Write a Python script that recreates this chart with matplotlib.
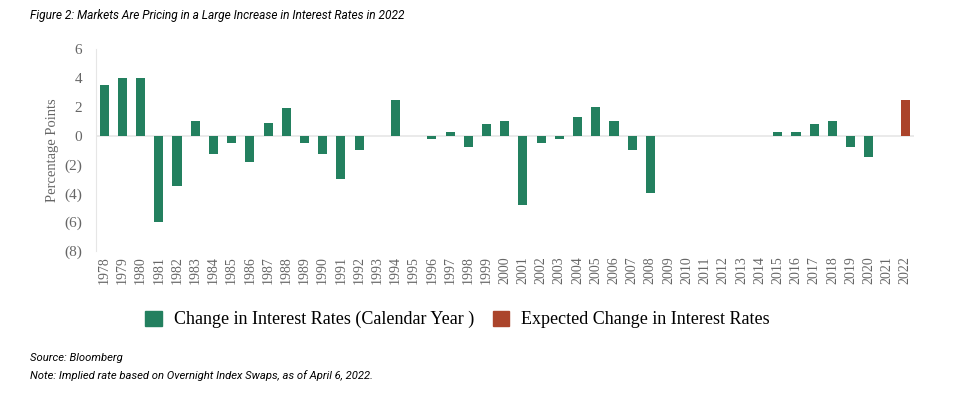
import matplotlib.pyplot as plt
from matplotlib.patches import Patch

# yearly change in policy rate, percentage points (2022 = expected, from OIS)
years = list(range(1978, 2023))
changes = [3.5, 4.0, 4.0, -6.0, -3.5, 1.0, -1.3, -0.5, -1.8, 0.9,
           1.9, -0.5, -1.3, -3.0, -1.0, 0.0, 2.5, 0.0, -0.25, 0.25,
           -0.8, 0.8, 1.0, -4.8, -0.5, -0.25, 1.3, 2.0, 1.0, -1.0,
           -4.0, 0.0, 0.0, 0.0, 0.0, 0.0, 0.0, 0.25, 0.25, 0.8,
           1.0, -0.8, -1.5, 0.0, 2.5]
expected_year = 2022

yticks = [6, 4, 2, 0, -2, -4, -6, -8]
ytick_labels = ["6", "4", "2", "0", "(2)", "(4)", "(6)", "(8)"]

green = "#23805f"
red = "#ab442b"
grey = "#666666"
serif = "Liberation Serif"

fig = plt.figure(figsize=(9.8, 3.97), dpi=100)
ax = fig.add_axes([0.098, 0.368, 0.835, 0.508])

x = list(range(len(years)))
colors = [red if y == expected_year else green for y in years]
ax.bar(x, changes, width=0.5, color=colors, zorder=3)
ax.axhline(0, color="#e6e6e6", lw=1.2, zorder=2)

ax.set_xlim(-0.45, len(years) - 0.5)
ax.set_ylim(-8, 6)
ax.set_yticks(yticks)
ax.set_yticklabels(ytick_labels, family=serif, fontsize=11, color=grey)
ax.set_xticks(x)
ax.set_xticklabels([str(y) for y in years], rotation=90, family=serif,
                   fontsize=10, color=grey)
ax.tick_params(axis="x", length=0, pad=4)
ax.tick_params(axis="y", length=0, pad=10)
ax.set_ylabel("Percentage Points", family=serif, fontsize=10.5, color=grey,
              labelpad=4)

for side in ["top", "right", "bottom"]:
    ax.spines[side].set_visible(False)
ax.spines["left"].set_color("#e6e6e6")

handles = [Patch(color=green, label="Change in Interest Rates (Calendar Year )"),
           Patch(color=red, label="Expected Change in Interest Rates")]
fig.legend(handles=handles, loc="center", bbox_to_anchor=(0.467, 0.195), ncol=2,
           frameon=False, prop={"family": serif, "size": 13},
           handlelength=0.9, handleheight=0.9, columnspacing=1.0, handletextpad=0.7)

fig.text(0.031, 0.962, "Figure 2: Markets Are Pricing in a Large Increase in Interest Rates in 2022",
         family="Roboto", style="italic", fontsize=8.6, va="center")
fig.text(0.031, 0.098, "Source: Bloomberg", family="Roboto", style="italic",
         fontsize=8.1, va="center")
fig.text(0.031, 0.055, "Note: Implied rate based on Overnight Index Swaps, as of April 6, 2022.",
         family="Roboto", style="italic", fontsize=8.1, va="center")

fig.savefig("out.png", dpi=100)
